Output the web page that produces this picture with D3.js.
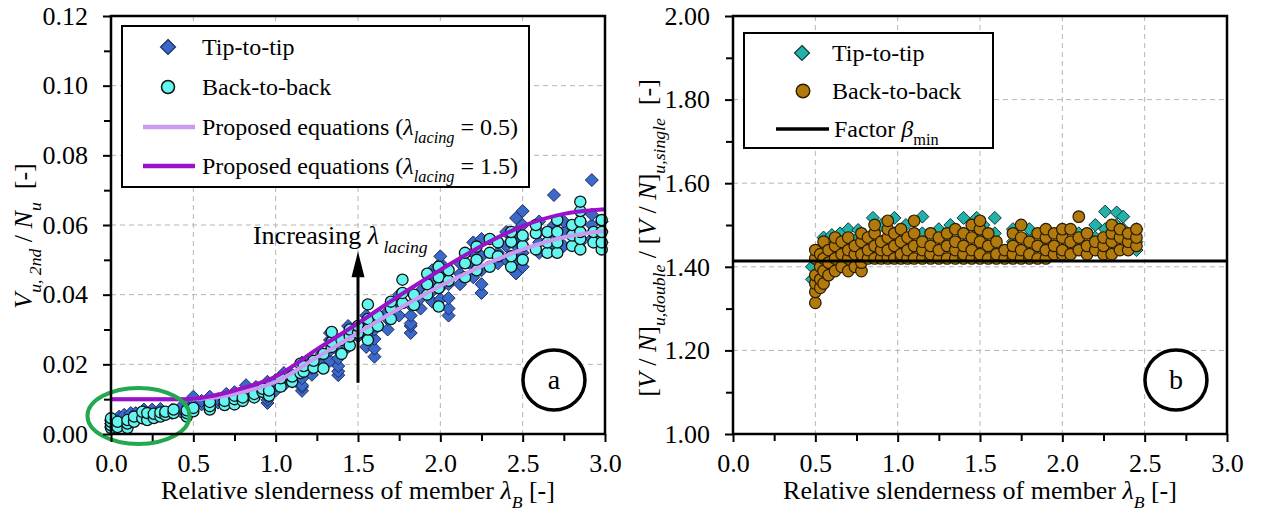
<!DOCTYPE html>
<html><head><meta charset="utf-8">
<script src="https://cdn.jsdelivr.net/npm/d3@7"></script>
</head><body style="margin:0;background:#fff">
<svg id="chart" width="1263" height="515" font-family="Liberation Serif" style="display:block;font-family:'Liberation Serif'"></svg>
<script>
// ---------- DATA ----------
const xTicks = [0, 0.5, 1, 1.5, 2, 2.5, 3];
const xMinorTicks = [0.25, 0.75, 1.25, 1.75, 2.25, 2.75];
const yTicksA = [0, 0.02, 0.04, 0.06, 0.08, 0.10, 0.12];
const yMinorA = [0.01, 0.03, 0.05, 0.07, 0.09, 0.11];
const yTicksB = [1.0, 1.2, 1.4, 1.6, 1.8, 2.0];
const yMinorB = [1.1, 1.3, 1.5, 1.7, 1.9];

const curveLambda   = [0, 0.25, 0.45, 0.5, 0.6, 0.75, 1.0, 1.25, 1.5, 1.75, 2.0, 2.25, 2.5, 2.75, 3.0];
const curveLacing05 = [0.0100, 0.0100, 0.0100, 0.0100, 0.0103, 0.0115, 0.0150, 0.0220, 0.0290, 0.0360, 0.0425, 0.0482, 0.0530, 0.0565, 0.0583];
const curveLacing15 = [0.0100, 0.0100, 0.0100, 0.0101, 0.0108, 0.0125, 0.0165, 0.0243, 0.0318, 0.0397, 0.0471, 0.0540, 0.0597, 0.0632, 0.0645];

const betaMin = 1.414;

// (a) tip-to-tip: [lambda, [V/N values]]
const tipA = [
 [0.00,[0.002,0.003,0.004]],[0.05,[0.003,0.004,0.005]],[0.08,[0.0045,0.0055]],
 [0.12,[0.004,0.005,0.006]],[0.15,[0.005,0.006]],[0.20,[0.0055,0.0065,0.007]],
 [0.25,[0.005,0.006,0.007]],[0.30,[0.0055,0.0065,0.0072]],[0.37,[0.006,0.0069]],
 [0.42,[0.0065,0.0075]],[0.47,[0.0065,0.0078,0.009]],[0.50,[0.0085,0.0098,0.0107]],
 [0.55,[0.0085,0.0095]],[0.60,[0.0085,0.0095,0.0107]],[0.65,[0.009,0.010]],
 [0.70,[0.0085,0.0095,0.0105,0.0115]],[0.75,[0.0095,0.011,0.012]],[0.82,[0.011,0.012,0.014]],
 [0.88,[0.0115,0.0125,0.0135]],[0.95,[0.0089,0.0098,0.0107,0.012,0.013,0.015]],
 [1.00,[0.0125,0.014,0.0155]],[1.05,[0.014,0.016,0.0175]],[1.10,[0.015,0.017]],
 [1.16,[0.0124,0.0135,0.014,0.016,0.018,0.0205]],[1.22,[0.017,0.019,0.021]],
 [1.28,[0.019,0.021,0.023]],[1.33,[0.021,0.024,0.027,0.029]],
 [1.38,[0.0169,0.018,0.0195,0.0217,0.024,0.027]],[1.44,[0.025,0.027,0.029,0.031]],
 [1.50,[0.028,0.030]],[1.55,[0.025,0.028,0.031,0.034]],[1.60,[0.0222,0.0245,0.0273,0.030,0.033]],
 [1.68,[0.030,0.033,0.035]],[1.75,[0.034,0.037,0.040]],[1.82,[0.029,0.031,0.0317,0.034,0.037]],
 [1.88,[0.036,0.039,0.041]],[1.95,[0.038,0.041,0.044,0.047]],[2.00,[0.0387,0.042,0.045,0.049,0.051]],
 [2.05,[0.034,0.036,0.039,0.043]],[2.12,[0.043,0.046,0.049]],[2.20,[0.045,0.048,0.052,0.055]],
 [2.25,[0.0405,0.043,0.047,0.051,0.056]],[2.35,[0.049,0.052,0.055]],[2.40,[0.050,0.054,0.058]],
 [2.46,[0.0461,0.050,0.054,0.058,0.062]],[2.50,[0.048,0.052,0.056,0.060,0.064]],
 [2.60,[0.052,0.055,0.058,0.061]],[2.69,[0.053,0.056,0.060,0.0686]],[2.75,[0.054,0.058,0.061]],
 [2.85,[0.055,0.058,0.061,0.064]],[2.92,[0.056,0.060,0.063,0.0729]],[2.98,[0.055,0.058,0.061]]
];
// (a) back-to-back
const backA = [
 [0.00,[0.0017,0.0025,0.0035,0.0045]],[0.04,[0.002,0.0035]],[0.10,[0.0017,0.003,0.004]],
 [0.14,[0.0035,0.005]],[0.19,[0.0045,0.0064]],[0.22,[0.004,0.006]],[0.26,[0.0046,0.0058]],
 [0.30,[0.005,0.0062]],[0.33,[0.0055,0.0064]],[0.38,[0.006,0.007]],[0.46,[0.005,0.006,0.0068]],
 [0.50,[0.0065,0.0075]],[0.60,[0.007,0.008,0.0092]],[0.69,[0.0083,0.0095]],[0.75,[0.0085,0.010,0.011]],
 [0.80,[0.0095,0.0105]],[0.87,[0.0105,0.0115]],[0.92,[0.0121,0.013]],[0.96,[0.011,0.0125]],
 [1.03,[0.0136,0.016]],[1.10,[0.015,0.0165]],[1.15,[0.0175,0.0202]],[1.17,[0.0179,0.0195]],
 [1.23,[0.019,0.021]],[1.29,[0.0188,0.023]],[1.34,[0.025,0.0264,0.0293]],[1.40,[0.023,0.027]],
 [1.45,[0.0254,0.028,0.030]],[1.50,[0.029,0.031]],[1.56,[0.027,0.030,0.033,0.0372]],
 [1.62,[0.031,0.034]],[1.70,[0.033,0.036,0.038]],[1.77,[0.0376,0.0405,0.0443]],[1.84,[0.037,0.040]],
 [1.92,[0.040,0.043,0.046]],[1.99,[0.0366,0.0419,0.045,0.048]],[2.05,[0.044,0.047]],
 [2.15,[0.045,0.049,0.052]],[2.22,[0.047,0.050,0.0538]],[2.30,[0.048,0.052,0.056]],
 [2.35,[0.051,0.055]],[2.43,[0.048,0.051,0.0552,0.058]],[2.50,[0.050,0.054,0.057]],
 [2.58,[0.053,0.0576,0.060]],[2.65,[0.052,0.055,0.058]],[2.71,[0.052,0.055,0.058,0.0614]],
 [2.80,[0.054,0.057,0.060]],[2.85,[0.053,0.056,0.058,0.061,0.064,0.0667]],[2.93,[0.055,0.058]],
 [2.98,[0.053,0.055,0.058,0.0614]]
];
// (b) tip-to-tip: [lambda, [ratio values]]
const tipB = [
 [0.48,[1.37,1.40]],[0.52,[1.41,1.44]],[0.55,[1.45,1.47]],[0.60,[1.43,1.476]],[0.65,[1.45,1.48]],
 [0.70,[1.46,1.49]],[0.76,[1.47,1.488]],[0.85,[1.48,1.517]],[0.90,[1.46,1.50]],[0.98,[1.48,1.517]],
 [1.05,[1.47,1.50]],[1.15,[1.48,1.52]],[1.25,[1.47,1.49]],[1.32,[1.46,1.50]],[1.40,[1.48,1.517]],
 [1.48,[1.49,1.517]],[1.52,[1.47,1.50]],[1.59,[1.48,1.517]],[1.70,[1.46,1.49]],[1.80,[1.47,1.49]],
 [1.90,[1.46,1.48]],[2.00,[1.47,1.49]],[2.10,[1.46,1.48]],[2.20,[1.47,1.50]],[2.26,[1.49,1.532]],
 [2.33,[1.50,1.53]],[2.37,[1.49,1.52]],[2.45,[1.44,1.46,1.49]]
];
// (b) back-to-back
const backB = [
 [0.50,[1.314,1.34,1.36,1.38,1.42,1.44]],[0.53,[1.35,1.37,1.40,1.43]],[0.55,[1.36,1.39,1.42,1.46]],
 [0.58,[1.38,1.41,1.44]],[0.62,[1.39,1.42,1.45,1.47]],[0.66,[1.40,1.43,1.46]],
 [0.70,[1.39,1.42,1.44,1.47]],[0.74,[1.40,1.43,1.45]],[0.78,[1.39,1.41,1.43,1.46,1.48]],
 [0.82,[1.42,1.44,1.47]],[0.86,[1.42,1.45,1.48,1.50]],[0.90,[1.42,1.44,1.46]],
 [0.94,[1.42,1.44,1.47,1.49,1.51]],[0.98,[1.42,1.45,1.48]],[1.02,[1.42,1.43,1.46,1.49]],
 [1.06,[1.42,1.44,1.47]],[1.10,[1.42,1.45,1.48,1.51]],[1.15,[1.42,1.44,1.46]],
 [1.20,[1.42,1.43,1.45,1.48]],[1.25,[1.42,1.44,1.47]],[1.30,[1.42,1.45,1.48]],
 [1.35,[1.42,1.44,1.46,1.49]],[1.40,[1.42,1.43,1.45,1.48]],[1.45,[1.42,1.44,1.47,1.50]],
 [1.50,[1.42,1.43,1.46,1.49,1.51]],[1.55,[1.42,1.45,1.48]],[1.60,[1.42,1.43,1.46]],
 [1.65,[1.42,1.44]],[1.70,[1.42,1.43,1.45,1.48]],[1.75,[1.42,1.44,1.47,1.50]],
 [1.80,[1.42,1.43,1.46]],[1.85,[1.42,1.45,1.48]],[1.90,[1.42,1.44,1.47,1.49]],
 [1.95,[1.43,1.45,1.48]],[2.00,[1.43,1.44,1.47,1.49]],[2.05,[1.43,1.46,1.49]],
 [2.10,[1.44,1.47,1.52]],[2.15,[1.43,1.45,1.48]],[2.20,[1.44,1.46]],[2.25,[1.43,1.45,1.47]],
 [2.30,[1.43,1.46,1.48,1.50]],[2.35,[1.44,1.47,1.49]],[2.40,[1.44,1.46,1.48]],[2.45,[1.45,1.47,1.49]]
];

// ---------- RENDER ----------
const svg = d3.select("#chart");
const flat = cols => cols.flatMap(([l, vs]) => vs.map(v => ({x: l, y: v})));
const diamond = s => `M0,${-s}L${s},0L0,${s}L${-s},0Z`;

const xA = d3.scaleLinear().domain([0, 3]).range([111, 605]);
const yA = d3.scaleLinear().domain([0, 0.12]).range([434, 16]);
const xB = d3.scaleLinear().domain([0, 3]).range([733, 1227]);
const yB = d3.scaleLinear().domain([1, 2]).range([434, 16]);

function setFont(sel, size) {
  return sel.attr("font-size", size).attr("font-family", "Liberation Serif").style("font-family", '"Liberation Serif"');
}
function rich(sel, parts, base) {
  let shifted = 0;
  parts.forEach(p => {
    const ts = sel.append("tspan").text(p.t);
    if (p.i) ts.attr("font-style", "italic");
    const want = p.sub ? base * 0.33 : 0;
    if (want !== shifted) { ts.attr("dy", want - shifted); shifted = want; }
    if (p.sub) ts.attr("font-size", base * 0.68);
  });
  return sel;
}

function grid(g, x, y, xt, yt) {
  const [x0, x1] = x.range(), [y1, y0] = y.range();
  g.append("g").selectAll("line").data(xt.slice(1, -1)).join("line")
    .attr("x1", d => x(d)).attr("x2", d => x(d)).attr("y1", y0).attr("y2", y1)
    .attr("stroke", "#b5b5b5").attr("stroke-width", 1).attr("stroke-dasharray", "5,4");
  g.append("g").selectAll("line").data(yt.slice(1, -1)).join("line")
    .attr("y1", d => y(d)).attr("y2", d => y(d)).attr("x1", x0).attr("x2", x1)
    .attr("stroke", "#b5b5b5").attr("stroke-width", 1).attr("stroke-dasharray", "5,4");
}

function axes(g, x, y, yt, ymin, yfmt) {
  const [x0, x1] = x.range(), [y1, y0] = y.range();
  const style = s => {
    s.attr("font-family", "Liberation Serif").attr("font-size", 26);
    s.select(".domain").remove();
    s.selectAll(".tick line").attr("stroke", "#000").attr("stroke-width", 2);
    setFont(s.selectAll(".tick text"), 26).attr("fill", "#000");
  };
  g.append("g").attr("transform", `translate(0,${y1})`)
    .call(d3.axisBottom(x).tickValues(xTicks).tickSize(8).tickPadding(12).tickFormat(d3.format(".1f"))).call(style);
  g.append("g").attr("transform", `translate(0,${y1})`)
    .call(d3.axisBottom(x).tickValues(xMinorTicks).tickSize(7).tickFormat("")).call(style);
  g.append("g").attr("transform", `translate(${x0},0)`)
    .call(d3.axisLeft(y).tickValues(yt).tickSize(8).tickPadding(15).tickFormat(d3.format(yfmt))).call(style);
  g.append("g").attr("transform", `translate(${x0},0)`)
    .call(d3.axisLeft(y).tickValues(ymin).tickSize(7).tickFormat("")).call(style);
  g.append("rect").attr("x", x0).attr("y", y0).attr("width", x1 - x0).attr("height", y1 - y0)
    .attr("fill", "none").attr("stroke", "#000").attr("stroke-width", 2.5);
}

function txt(g, x, y, size) {
  return setFont(g.append("text").attr("x", x).attr("y", y), size);
}

// ===== Panel (a) =====
const gA = svg.append("g");
grid(gA, xA, yA, xTicks, yTicksA);

gA.append("g").selectAll("path").data(flat(tipA)).join("path")
  .attr("d", diamond(6.5)).attr("transform", d => `translate(${xA(d.x)},${yA(d.y)})`)
  .attr("fill", "#3a69c9").attr("stroke", "#1b2c60").attr("stroke-width", 1);
gA.append("g").selectAll("circle").data(flat(backA)).join("circle")
  .attr("cx", d => xA(d.x)).attr("cy", d => yA(d.y)).attr("r", 5.6)
  .attr("fill", "#63f6f0").attr("stroke", "#111").attr("stroke-width", 1.3);

const lineA = d3.line().x(d => xA(d[0])).y(d => yA(d[1])).curve(d3.curveMonotoneX);
gA.append("path").attr("d", lineA(curveLambda.map((l, i) => [l, curveLacing05[i]])))
  .attr("fill", "none").attr("stroke", "#c99cf2").attr("stroke-width", 4);
gA.append("path").attr("d", lineA(curveLambda.map((l, i) => [l, curveLacing15[i]])))
  .attr("fill", "none").attr("stroke", "#9a12c8").attr("stroke-width", 4);

gA.append("ellipse").attr("cx", xA(0.167)).attr("cy", yA(0.0052)).attr("rx", 51).attr("ry", 28)
  .attr("fill", "none").attr("stroke", "#22a84f").attr("stroke-width", 4);

const arrX = xA(1.5);
gA.append("line").attr("x1", arrX).attr("x2", arrX).attr("y1", yA(0.0147)).attr("y2", yA(0.0455))
  .attr("stroke", "#000").attr("stroke-width", 3);
gA.append("path").attr("d", `M${arrX},${yA(0.0524)}L${arrX + 6.5},${yA(0.0450)}L${arrX - 6.5},${yA(0.0450)}Z`).attr("fill", "#000");
rich(txt(gA, xA(0.862), yA(0.0545), 26),
  [{t: "Increasing "}, {t: "λ", i: true}, {t: " lacing", i: true, sub: true}], 26);

gA.append("ellipse").attr("cx", xA(2.69)).attr("cy", yA(0.0155)).attr("rx", 31).attr("ry", 30)
  .attr("fill", "#fff").attr("stroke", "#000").attr("stroke-width", 3.5);
txt(gA, xA(2.69), yA(0.0155) + 9, 28).attr("text-anchor", "middle").text("a");

const lgA = gA.append("g");
lgA.append("rect").attr("x", 122).attr("y", 26).attr("width", 407).attr("height", 161)
  .attr("fill", "#fff").attr("stroke", "#000").attr("stroke-width", 2);
lgA.append("path").attr("d", diamond(7.5)).attr("transform", "translate(168,47)")
  .attr("fill", "#3a69c9").attr("stroke", "#1b2c60").attr("stroke-width", 1.2);
lgA.append("circle").attr("cx", 168).attr("cy", 87).attr("r", 6.5)
  .attr("fill", "#63f6f0").attr("stroke", "#111").attr("stroke-width", 1.5);
lgA.append("line").attr("x1", 143).attr("x2", 195).attr("y1", 127).attr("y2", 127).attr("stroke", "#c99cf2").attr("stroke-width", 4.5);
lgA.append("line").attr("x1", 143).attr("x2", 195).attr("y1", 166).attr("y2", 166).attr("stroke", "#9a12c8").attr("stroke-width", 4.5);
txt(lgA, 202, 55, 24).text("Tip-to-tip");
txt(lgA, 202, 95, 24).text("Back-to-back");
rich(txt(lgA, 202, 135, 24),
  [{t: "Proposed equations ("}, {t: "λ", i: true}, {t: "lacing", i: true, sub: true}, {t: " = 0.5)"}], 24);
rich(txt(lgA, 202, 174, 24),
  [{t: "Proposed equations ("}, {t: "λ", i: true}, {t: "lacing", i: true, sub: true}, {t: " = 1.5)"}], 24);

axes(gA, xA, yA, yTicksA, yMinorA, ".2f");

rich(setFont(gA.append("text").attr("transform", "translate(32,236) rotate(-90)").attr("text-anchor", "middle"), 26),
  [{t: "V", i: true}, {t: "u, 2nd", i: true, sub: true}, {t: " / "}, {t: "N", i: true}, {t: "u", i: true, sub: true}, {t: "\u00a0 [-]"}], 26);
rich(txt(gA, 358, 499, 26).attr("text-anchor", "middle"),
  [{t: "Relative slenderness of member "}, {t: "λ", i: true}, {t: "B", i: true, sub: true}, {t: " [-]"}], 26);

// ===== Panel (b) =====
const gB = svg.append("g");
grid(gB, xB, yB, xTicks, yTicksB);

gB.append("g").selectAll("path").data(flat(tipB)).join("path")
  .attr("d", diamond(6.5)).attr("transform", d => `translate(${xB(d.x)},${yB(d.y)})`)
  .attr("fill", "#22b2aa").attr("stroke", "#0e3a37").attr("stroke-width", 1);
gB.append("g").selectAll("circle").data(flat(backB)).join("circle")
  .attr("cx", d => xB(d.x)).attr("cy", d => yB(d.y)).attr("r", 5.8)
  .attr("fill", "#b27a0c").attr("stroke", "#2a1c00").attr("stroke-width", 1.2);

gB.append("line").attr("x1", xB(0)).attr("x2", xB(3)).attr("y1", yB(betaMin)).attr("y2", yB(betaMin))
  .attr("stroke", "#000").attr("stroke-width", 3);

gB.append("ellipse").attr("cx", xB(2.69)).attr("cy", yB(1.129)).attr("rx", 31).attr("ry", 30)
  .attr("fill", "#fff").attr("stroke", "#000").attr("stroke-width", 3.5);
txt(gB, xB(2.69), yB(1.129) + 9, 28).attr("text-anchor", "middle").text("b");

const lgB = gB.append("g");
lgB.append("rect").attr("x", 744).attr("y", 33).attr("width", 249).attr("height", 115)
  .attr("fill", "#fff").attr("stroke", "#000").attr("stroke-width", 2);
lgB.append("path").attr("d", diamond(7.5)).attr("transform", "translate(802,53)")
  .attr("fill", "#22b2aa").attr("stroke", "#0e3a37").attr("stroke-width", 1.2);
lgB.append("circle").attr("cx", 803).attr("cy", 91).attr("r", 6.8)
  .attr("fill", "#b27a0c").attr("stroke", "#2a1c00").attr("stroke-width", 1.4);
lgB.append("line").attr("x1", 776).attr("x2", 829).attr("y1", 129).attr("y2", 129).attr("stroke", "#000").attr("stroke-width", 3.5);
txt(lgB, 832, 61, 24).text("Tip-to-tip");
txt(lgB, 832, 99, 24).text("Back-to-back");
rich(txt(lgB, 834, 137, 24),
  [{t: "Factor "}, {t: "β", i: true}, {t: "min", sub: true}], 24);

axes(gB, xB, yB, yTicksB, yMinorB, ".2f");

rich(setFont(gB.append("text").attr("transform", "translate(656,238) rotate(-90)").attr("text-anchor", "middle"), 26),
  [{t: "["}, {t: "V", i: true}, {t: " / "}, {t: "N", i: true}, {t: "]"}, {t: "u,double", i: true, sub: true},
   {t: " / ["}, {t: "V", i: true}, {t: " / "}, {t: "N", i: true}, {t: "]"}, {t: "u,single", i: true, sub: true}, {t: "\u00a0 [-]"}], 26);
rich(txt(gB, 980, 499, 26).attr("text-anchor", "middle"),
  [{t: "Relative slenderness of member "}, {t: "λ", i: true}, {t: "B", i: true, sub: true}, {t: " [-]"}], 26);
</script>
</body></html>
